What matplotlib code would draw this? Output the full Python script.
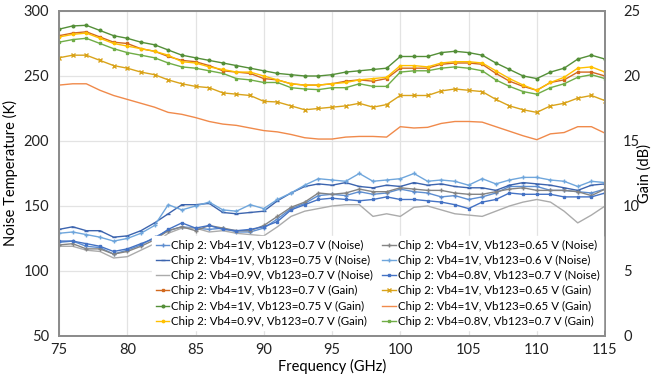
import matplotlib.pyplot as plt

plt.rcParams['font.family'] = ['Lato', 'DejaVu Sans']

freq = list(range(75, 116))

# noise temperature (K)
noise_1v_070 = [122, 123, 119, 118, 113, 116, 120, 126, 131, 134, 133, 132, 133, 130, 130, 133, 140, 148, 152, 158, 159,
                158, 161, 159, 160, 163, 161, 160, 157, 158, 155, 157, 160, 165, 165, 165, 162, 162, 161, 160, 163]
noise_1v_075 = [132, 134, 131, 131, 126, 127, 131, 137, 144, 151, 151, 152, 145, 144, 145, 146, 154, 160, 165, 167, 166,
                168, 165, 164, 166, 165, 168, 166, 167, 165, 164, 164, 162, 166, 168, 167, 166, 164, 162, 166, 167]
noise_09v_070 = [119, 119, 116, 115, 110, 111, 116, 121, 129, 133, 133, 130, 131, 129, 128, 127, 134, 142, 146, 148, 150,
                 151, 151, 142, 144, 142, 149, 150, 147, 144, 143, 142, 146, 150, 153, 155, 153, 146, 137, 143, 150]
noise_1v_065 = [120, 121, 117, 117, 113, 115, 119, 124, 131, 134, 131, 135, 133, 131, 131, 135, 142, 149, 153, 160, 159,
                160, 163, 161, 161, 164, 163, 162, 162, 160, 159, 159, 161, 163, 164, 162, 162, 162, 161, 158, 163]
noise_1v_060 = [129, 130, 128, 126, 123, 125, 129, 135, 151, 147, 150, 153, 147, 146, 151, 148, 155, 160, 166, 171, 170,
                169, 175, 169, 170, 171, 175, 169, 170, 169, 166, 171, 167, 170, 172, 172, 170, 169, 165, 169, 168]
noise_08v_070 = [123, 123, 121, 119, 115, 117, 121, 125, 132, 137, 133, 135, 132, 131, 132, 134, 138, 147, 151, 155, 156,
                 155, 154, 155, 157, 155, 155, 154, 153, 151, 148, 153, 155, 160, 159, 159, 159, 157, 157, 157, 160]

# gain (dB)
gain_1v_070 = [23.1, 23.3, 23.4, 23.0, 22.6, 22.5, 22.1, 21.9, 21.5, 21.2, 21.1, 20.8, 20.4, 20.3, 20.2, 19.8, 19.7, 19.4, 19.3, 19.3, 19.4,
               19.6, 19.7, 19.6, 19.8, 20.6, 20.6, 20.6, 20.9, 21.0, 21.0, 20.9, 20.2, 19.6, 19.2, 18.9, 19.5, 19.7, 20.3, 20.3, 20.0]
gain_1v_075 = [23.6, 23.85, 23.9, 23.5, 23.1, 22.9, 22.6, 22.4, 22.0, 21.6, 21.4, 21.2, 21.0, 20.8, 20.6, 20.4, 20.2, 20.1, 20.0, 20.0, 20.1,
               20.3, 20.4, 20.5, 20.6, 21.5, 21.5, 21.5, 21.8, 21.9, 21.8, 21.6, 21.0, 20.5, 20.0, 19.8, 20.3, 20.6, 21.3, 21.6, 21.3]
gain_09v_070 = [23.0, 23.2, 23.3, 22.9, 22.5, 22.3, 22.1, 21.9, 21.6, 21.1, 21.0, 20.7, 20.5, 20.3, 20.3, 20.0, 19.7, 19.4, 19.3, 19.3, 19.4,
                19.5, 19.7, 19.8, 19.9, 20.8, 20.8, 20.7, 21.0, 21.1, 21.1, 21.0, 20.4, 19.8, 19.3, 18.9, 19.5, 19.9, 20.6, 20.7, 20.3]
gain_1v_065a = [21.4, 21.6, 21.6, 21.2, 20.8, 20.6, 20.3, 20.1, 19.7, 19.4, 19.2, 19.1, 18.7, 18.6, 18.5, 18.05, 18.0, 17.7, 17.4, 17.5, 17.6,
                17.7, 17.9, 17.6, 17.8, 18.5, 18.5, 18.5, 18.85, 19.0, 18.9, 18.8, 18.2, 17.7, 17.4, 17.2, 17.7, 17.9, 18.3, 18.5, 18.1]
gain_1v_065b = [19.3, 19.4, 19.4, 18.9, 18.5, 18.2, 17.9, 17.6, 17.2, 17.05, 16.8, 16.5, 16.3, 16.2, 16.0, 15.8, 15.7, 15.5, 15.25, 15.15, 15.15,
                15.3, 15.35, 15.35, 15.3, 16.1, 16.0, 16.05, 16.35, 16.5, 16.5, 16.45, 16.1, 15.75, 15.4, 15.1, 15.55, 15.65, 16.1, 16.1, 15.6]
gain_08v_070 = [22.6, 22.8, 22.9, 22.5, 22.1, 21.8, 21.6, 21.4, 21.0, 20.7, 20.6, 20.4, 20.2, 19.8, 19.7, 19.5, 19.5, 19.1, 19.0, 18.95, 19.1,
                19.1, 19.4, 19.2, 19.2, 20.3, 20.4, 20.4, 20.6, 20.7, 20.6, 20.4, 19.7, 19.2, 18.8, 18.6, 19.1, 19.4, 19.9, 20.1, 19.8]

fig = plt.figure(figsize=(6.52, 3.79), dpi=100)
ax = fig.add_axes([0.0905, 0.1135, 0.8375, 0.8575])
ax2 = ax.twinx()

lw = 1.0
ms = 2.6
l1, = ax.plot(freq, noise_1v_070, color='#5E8ED0', lw=lw, marker='+', ms=ms, label='Chip 2: Vb4=1V, Vb123=0.7 V (Noise)')
l2, = ax.plot(freq, noise_1v_075, color='#3C64AE', lw=lw, marker='_', ms=ms, label='Chip 2: Vb4=1V, Vb123=0.75 V (Noise)')
l3, = ax.plot(freq, noise_09v_070, color='#ABABAB', lw=lw, label='Chip 2: Vb4=0.9V, Vb123=0.7 V (Noise)')
l7, = ax.plot(freq, noise_1v_065, color='#848484', lw=lw, marker='+', ms=ms, label='Chip 2: Vb4=1V, Vb123=0.65 V (Noise)')
l8, = ax.plot(freq, noise_1v_060, color='#6FA6DC', lw=lw, marker='+', ms=ms, label='Chip 2: Vb4=1V, Vb123=0.6 V (Noise)')
l9, = ax.plot(freq, noise_08v_070, color='#4472C4', lw=lw, marker='s', ms=1.9, label='Chip 2: Vb4=0.8V, Vb123=0.7 V (Noise)')

l11, = ax2.plot(freq, gain_1v_065b, color='#F08A4B', lw=lw, label='Chip 2: Vb4=1V, Vb123=0.65 V (Gain)')
l10, = ax2.plot(freq, gain_1v_065a, color='#D9A31A', lw=lw, marker='x', ms=2.2, label='Chip 2: Vb4=1V, Vb123=0.65 V (Gain)')
l12, = ax2.plot(freq, gain_08v_070, color='#70AD47', lw=lw, marker='s', ms=1.9, label='Chip 2: Vb4=0.8V, Vb123=0.7 V (Gain)')
l5, = ax2.plot(freq, gain_1v_075, color='#548F38', lw=lw, marker='o', ms=1.9, label='Chip 2: Vb4=1V, Vb123=0.75 V (Gain)')
l4, = ax2.plot(freq, gain_1v_070, color='#D2691E', lw=lw, marker='s', ms=1.9, label='Chip 2: Vb4=1V, Vb123=0.7 V (Gain)')
l6, = ax2.plot(freq, gain_09v_070, color='#FFC000', lw=lw, marker='o', ms=1.7, label='Chip 2: Vb4=0.9V, Vb123=0.7 V (Gain)')

ax.set_xlim(75, 115)
ax.set_ylim(50, 300)
ax2.set_ylim(0, 25)
ax.set_xticks(range(75, 116, 5))
ax.set_yticks(range(50, 301, 50))
ax2.set_yticks(range(0, 26, 5))
ax.grid(True, color='#E3E3E3', lw=0.9)
ax.set_axisbelow(True)

for a in (ax, ax2):
    a.tick_params(length=0, labelsize=10.5, colors='#222222')
    for s in a.spines.values():
        s.set_color('#8C8C8C')
        s.set_linewidth(1.3)
ax.tick_params(axis='x', pad=5)
ax.tick_params(axis='y', pad=7)
ax2.tick_params(axis='y', pad=13)

ax.set_ylabel('Noise Temperature (K)', fontsize=10.5)
ax.yaxis.set_label_coords(-0.075, 0.5)
ax2.set_ylabel('Gain (dB)', fontsize=10.5, va='center')
ax2.yaxis.set_label_coords(1.073, 0.5)
ax.set_xlabel('Frequency (GHz)', fontsize=10.5)
ax.xaxis.set_label_coords(0.5, -0.072)

handles = [l1, l2, l3, l4, l5, l6, l7, l8, l9, l10, l11, l12]
leg = ax2.legend(handles=handles, ncol=2, loc='lower left', bbox_to_anchor=(0.16, 0.0), fontsize=8.3,
                 frameon=True, fancybox=False, edgecolor='white', facecolor='white', framealpha=1,
                 handlelength=1.2, handletextpad=0.15, columnspacing=0.8, labelspacing=0.36,
                 borderpad=0.3, borderaxespad=0.5)

fig.savefig('out.png', dpi=100)
